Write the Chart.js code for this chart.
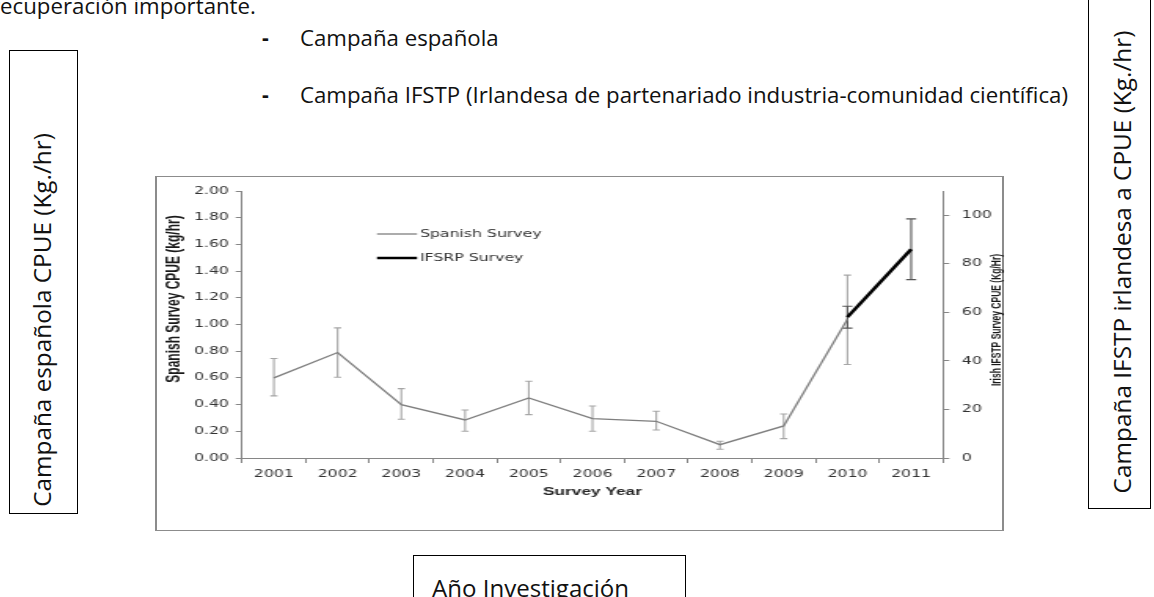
<!DOCTYPE html>
<html><head><meta charset="utf-8">
<script src="https://cdn.jsdelivr.net/npm/chart.js@4.4.1/dist/chart.umd.min.js"></script>
<style>
html,body{margin:0;padding:0;background:#fff;}
body{width:1154px;height:597px;overflow:hidden;position:relative;font-family:"Open Sans",sans-serif;color:#111;}
.t{position:absolute;white-space:nowrap;line-height:1;}
.rot{position:absolute;white-space:nowrap;line-height:1;transform:translate(-50%,-50%) rotate(-90deg);}
.box{position:absolute;border:1.5px solid #000;box-sizing:border-box;}
#frame{position:absolute;left:155px;top:176px;width:849px;height:355px;border:1px solid #8c8c8c;border-left-width:2px;border-right-width:2px;box-sizing:border-box;}
#wrap{position:absolute;left:156px;top:177px;width:545px;height:352px;transform-origin:0 0;transform:scaleX(1.57);}
</style></head>
<body>
<div class="t" id="top" style="left:-9px;top:-5px;font-size:17px;">recuperación importante.</div>
<div class="t" style="left:262px;top:27px;font-size:21px;font-weight:700;">-</div>
<div class="t" id="b1" style="left:300px;top:27px;font-size:17px;">Campaña española</div>
<div class="t" style="left:262px;top:84px;font-size:21px;font-weight:700;">-</div>
<div class="t" id="b2" style="left:300px;top:84px;font-size:17px;">Campaña IFSTP (Irlandesa de partenariado industria-comunidad científica)</div>

<div class="box" style="left:9px;top:50px;width:69px;height:464px;"></div>
<div class="rot" id="lt" style="left:42px;top:320px;font-size:24px;">Campaña española CPUE (Kg./hr)</div>

<div class="box" style="left:1088px;top:-10px;width:63px;height:519px;"></div>
<div class="rot" id="rt" style="left:1122px;top:262px;font-size:24px;">Campaña IFSTP irlandesa a CPUE (Kg./hr)</div>

<div class="box" style="left:413px;top:555px;width:273px;height:70px;"></div>
<div class="t" id="bt" style="left:432px;top:576px;font-size:22px;">Año Investigación</div>

<div id="frame"></div>
<div id="wrap"><canvas id="c" width="545" height="352"></canvas></div>

<script>
// ---- data ----
const years = ['2001','2002','2003','2004','2005','2006','2007','2008','2009','2010','2011'];
const spanishCPUE  = [0.60, 0.79, 0.40, 0.285, 0.45, 0.295, 0.275, 0.10, 0.24, 1.04, null];
const spanishUpper = [0.745, 0.975, 0.52, 0.36, 0.575, 0.39, 0.35, 0.125, 0.33, 1.37, null];
const spanishLower = [0.465, 0.605, 0.29, 0.20, 0.325, 0.20, 0.21, 0.065, 0.145, 0.70, null];
const irishCPUE  = [null, null, null, null, null, null, null, null, null, 58, 86];
const irishUpper = [null, null, null, null, null, null, null, null, null, 62.5, 98.5];
const irishLower = [null, null, null, null, null, null, null, null, null, 53.5, 73.5];
const leftTicks  = [0, 0.2, 0.4, 0.6, 0.8, 1.0, 1.2, 1.4, 1.6, 1.8, 2.0];
const rightTicks = [0, 20, 40, 60, 80, 100];
const seriesNames = ['Spanish Survey', 'IFSRP Survey'];
const leftTitle = 'Spanish Survey CPUE (kg/hr)';
const rightTitle = 'Irish IFSTP Survey CPUE (Kg/Hr)';
const xTitle = 'Survey Year';

// ---- text fitting ----
function fitWidth(el, target){
  const w = el.offsetWidth; const fs = parseFloat(getComputedStyle(el).fontSize);
  el.style.fontSize = (fs*target/w) + 'px';
}
function layoutText(){
  const b2 = document.getElementById('b2');
  b2.style.fontSize='17px'; fitWidth(b2, 768);
  const fs = b2.style.fontSize;
  document.getElementById('b1').style.fontSize = fs;
  document.getElementById('top').style.fontSize = fs;
  const lt=document.getElementById('lt'); lt.style.fontSize='24px'; fitWidth(lt, 374);
  const rt=document.getElementById('rt'); rt.style.fontSize='24px'; fitWidth(rt, 463);
  const bt=document.getElementById('bt'); bt.style.fontSize='22px'; fitWidth(bt, 197);
}
layoutText();

const S = 1.57;
const errorBars = {
  id:'errorBars',
  beforeDatasetsDraw(chart){
    const ctx = chart.ctx;
    chart.data.datasets.forEach((ds,i)=>{
      const meta = chart.getDatasetMeta(i);
      const ys = chart.scales[ds.yAxisID];
      ctx.save();
      ctx.strokeStyle = ds.errColor; ctx.lineWidth = 1.1;
      ds.data.forEach((v,j)=>{
        if(v==null || ds.errUp[j]==null) return;
        const x = meta.data[j].x;
        const yU = ys.getPixelForValue(ds.errUp[j]);
        const yL = ys.getPixelForValue(ds.errLo[j]);
        ctx.beginPath();
        ctx.moveTo(x,yU); ctx.lineTo(x,yL);
        ctx.moveTo(x-ds.capW,yU); ctx.lineTo(x+ds.capW,yU);
        ctx.moveTo(x-ds.capW,yL); ctx.lineTo(x+ds.capW,yL);
        ctx.stroke();
      });
      ctx.restore();
    });
  }
};
const extras = {
  id:'extras',
  afterDraw(chart){
    const ctx = chart.ctx, ca = chart.chartArea;
    ctx.save();
    // legend inside plot
    const lx1 = ca.left + 135/S, lx2 = ca.left + 175/S, tx = ca.left + 178/S;
    const rows = [ca.top + 43, ca.top + 67];
    chart.data.datasets.forEach((ds,i)=>{
      ctx.strokeStyle = ds.borderColor; ctx.lineWidth = ds.borderWidth;
      ctx.beginPath(); ctx.moveTo(lx1, rows[i]); ctx.lineTo(lx2, rows[i]); ctx.stroke();
      ctx.fillStyle = '#333'; ctx.font = '10px "DejaVu Sans"';
      ctx.textAlign='left'; ctx.textBaseline='middle';
      ctx.fillText(ds.label, tx, rows[i]);
    });
    // vertical axis titles
    ctx.fillStyle = '#1a1a1a';
    ctx.textAlign='center'; ctx.textBaseline='middle';
    ctx.font = 'bold 12px "Liberation Sans"';
    ctx.save(); ctx.translate((174-156)/S, 299-177); ctx.rotate(-Math.PI/2); ctx.fillText(leftTitle,0,0); ctx.restore();
    ctx.font = 'bold 8.5px "Liberation Sans"';
    ctx.save(); ctx.translate((997-156)/S, 320-177); ctx.rotate(-Math.PI/2); ctx.fillText(rightTitle,0,0); ctx.restore();
    ctx.restore();
  }
};

const tickFont = {family:'DejaVu Sans', size:10};
const axisGray = '#868686';
new Chart(document.getElementById('c'), {
  type:'line',
  data:{
    labels: years,
    datasets:[
      {label:seriesNames[0], data:spanishCPUE, yAxisID:'y', borderColor:'#7f7f7f', borderWidth:1.3,
       pointRadius:0, tension:0, errUp:spanishUpper, errLo:spanishLower, errColor:'#a6a6a6', capW:2.3},
      {label:seriesNames[1], data:irishCPUE, yAxisID:'y1', borderColor:'#000000', borderWidth:2.5,
       pointRadius:0, tension:0, errUp:irishUpper, errLo:irishLower, errColor:'#555555', capW:3.2}
    ]
  },
  options:{
    responsive:false, animation:false, devicePixelRatio:1,
    layout:{padding:{top:10,left:0,right:0,bottom:0}},
    plugins:{legend:{display:false}, tooltip:{enabled:false}},
    scales:{
      x:{offset:true,
         grid:{offset:true, drawOnChartArea:false, tickLength:5, color:axisGray},
         border:{color:axisGray},
         ticks:{font:tickFont, color:'#333', padding:5, maxRotation:0, autoSkip:false},
         title:{display:true, text:xTitle, font:{family:'Liberation Sans', size:11, weight:'bold'}, color:'#262626', padding:{top:0,bottom:30.4}},
         afterFit:s=>{s.height=71;}},
      y:{position:'left', min:0, max:2,
         afterBuildTicks:s=>{s.ticks = leftTicks.map(v=>({value:v}));},
         ticks:{font:tickFont, color:'#333', padding:4.3, callback:v=>Number(v).toFixed(2)},
         grid:{drawOnChartArea:false, tickLength:4, color:axisGray},
         border:{color:axisGray},
         afterFit:s=>{s.width=86/S;}},
      y1:{position:'right', min:0, max:110,
         afterBuildTicks:s=>{s.ticks = rightTicks.map(v=>({value:v}));},
         ticks:{font:tickFont, color:'#333', padding:8},
         grid:{drawOnChartArea:false, tickLength:4, color:axisGray},
         border:{color:axisGray},
         afterFit:s=>{s.width=545-787/S;}}
    }
  },
  plugins:[errorBars, extras]
});
</script>
</body></html>
